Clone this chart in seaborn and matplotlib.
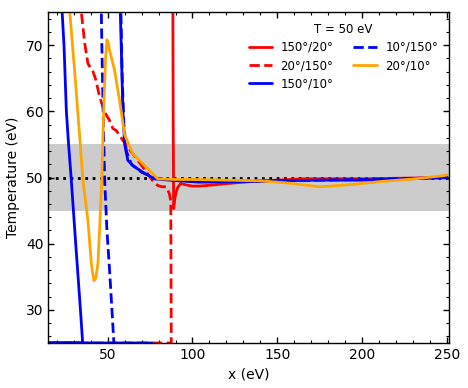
import numpy as np
import pandas as pd
import seaborn as sns
import matplotlib.pyplot as plt
from matplotlib.ticker import MultipleLocator

# reference temperature and the accepted band
t_ref = 50
band_lo, band_hi = 45, 55

# 150°/20° (red, solid)
red_solid_x = [88.4, 88.6, 88.9, 89.6, 90.4, 91.3, 93.0, 96.0, 100.0, 104.0, 113.0,
               121.0, 135.0, 150.0, 165.0, 180.0, 200.0, 225.0, 250.0]
red_solid_y = [80.0, 60.0, 45.3, 46.8, 47.8, 48.5, 49.1, 48.9, 48.7, 48.7, 48.9,
               49.1, 49.4, 49.6, 49.8, 49.8, 49.8, 49.9, 50.0]

# 20°/150° (red, dashed) - runs down, drops to the floor, back along the floor
red_dash_x = [34.2, 34.5, 36.5, 38.4, 41.4, 43.0, 45.3, 48.2, 51.2, 53.1, 55.1, 59.0,
              64.8, 70.7, 76.6, 79.5, 82.0, 84.5, 86.3, 87.2, 87.5, 15.0]
red_dash_y = [77.0, 75.0, 70.3, 67.2, 66.0, 64.8, 62.2, 59.9, 58.6, 57.4, 57.1, 55.6,
              53.6, 51.6, 49.5, 48.8, 48.6, 48.6, 47.6, 46.5, 25.0, 25.0]

# 150°/10° (blue, solid): left branch + floor, then right branch
blue_solid_x_a = [22.8, 23.2, 24.3, 25.7, 27.0, 28.5, 31.2, 34.0, 35.3, 15.0, 76.0]
blue_solid_y_a = [78.0, 75.0, 70.0, 60.0, 55.0, 50.0, 40.0, 30.0, 25.0, 25.0, 25.0]
blue_solid_x_b = [57.2, 57.5, 58.2, 59.0, 60.0, 61.9, 64.8, 70.7, 77.6, 86.4, 104.0,
                  120.0, 133.0, 150.0, 175.0, 200.0, 240.0, 250.0]
blue_solid_y_b = [78.0, 75.0, 68.0, 60.0, 55.1, 52.6, 51.8, 50.8, 49.8, 49.6, 49.3,
                  49.35, 49.4, 49.5, 49.6, 49.6, 49.9, 50.0]

# 10°/150° (blue, dashed)
blue_dash_x_a = [46.1, 46.3, 46.6, 47.2, 48.2, 49.6, 51.2, 53.7, 54.0]
blue_dash_y_a = [77.0, 75.0, 70.0, 62.0, 50.0, 42.0, 35.8, 25.0, 23.0]
blue_dash_x_b = [57.6, 58.6, 59.6, 61.0, 64.0, 70.0, 78.0, 90.0, 110.0, 150.0, 200.0, 250.0]
blue_dash_y_b = [78.0, 65.0, 58.0, 54.0, 52.0, 50.8, 49.9, 49.6, 49.4, 49.5, 49.7, 50.0]

# 20°/10° (orange, solid)
orange_x = [27.4, 27.7, 30.6, 33.6, 35.5, 38.4, 40.4, 41.9, 43.0, 44.3, 45.5, 46.6,
            47.8, 48.8, 49.6, 50.4, 51.2, 54.1, 57.0, 60.0, 64.8, 72.6, 79.5, 90.0,
            100.0, 120.0, 140.0, 155.0, 165.0, 175.0, 192.0, 211.0, 231.0, 248.6, 250.0]
orange_y = [77.0, 75.0, 66.0, 56.0, 49.5, 43.5, 37.0, 34.4, 34.8, 37.0, 43.5, 50.0,
            61.0, 68.0, 70.8, 70.3, 69.2, 66.2, 61.7, 56.5, 53.6, 51.6, 49.8, 49.7,
            49.7, 49.6, 49.5, 49.2, 48.9, 48.6, 48.9, 49.4, 49.8, 50.3, 50.4]


def frame(segments):
    rows = []
    for i, (xs, ys) in enumerate(segments):
        rows.append(pd.DataFrame({"x": xs, "y": ys, "seg": i}))
    return pd.concat(rows, ignore_index=True)


series = [
    ("150°/20°", "red", "-", frame([(red_solid_x, red_solid_y)])),
    ("20°/150°", "red", "--", frame([(red_dash_x, red_dash_y)])),
    ("150°/10°", "blue", "-", frame([(blue_solid_x_a, blue_solid_y_a),
                                     (blue_solid_x_b, blue_solid_y_b)])),
    ("10°/150°", "blue", "--", frame([(blue_dash_x_a, blue_dash_y_a),
                                      (blue_dash_x_b, blue_dash_y_b)])),
    ("20°/10°", "orange", "-", frame([(orange_x, orange_y)])),
]

sns.set_style("ticks", {"xtick.direction": "in", "ytick.direction": "in",
                        "xtick.top": True, "ytick.right": True,
                        "axes.edgecolor": "black", "xtick.color": "black",
                        "ytick.color": "black", "text.color": "black",
                        "axes.labelcolor": "black"})
plt.rcParams['font.family'] = ['DejaVu Sans']
plt.rcParams['xtick.minor.visible'] = True
plt.rcParams['ytick.minor.visible'] = True

fig = plt.figure(figsize=(4.68, 3.88), dpi=100)
ax = fig.add_axes([0.103, 0.116, 0.856, 0.853])

ax.axhspan(band_lo, band_hi, color="#cccccc", lw=0, zorder=0)
ax.axhline(t_ref, color="black", ls=":", lw=2, zorder=1)

for label, color, ls, df in series:
    sns.lineplot(data=df, x="x", y="y", units="seg", estimator=None, sort=False,
                 color=color, linestyle=ls, lw=2, label=label, ax=ax, legend=False)

ax.set_xlim(15, 251)
ax.set_ylim(25, 75)
ax.set_xlabel("x (eV)", fontsize=10)
ax.set_ylabel("Temperature (eV)", fontsize=10)

ax.xaxis.set_major_locator(MultipleLocator(50))
ax.xaxis.set_minor_locator(MultipleLocator(10))
ax.yaxis.set_major_locator(MultipleLocator(10))
ax.yaxis.set_minor_locator(MultipleLocator(2))
ax.tick_params(which="both", direction="in", bottom=True, left=True, top=True,
               right=True, labelsize=10)
ax.tick_params(which="major", length=4, width=1)
ax.tick_params(which="minor", length=2, width=0.8)
for sp in ax.spines.values():
    sp.set_visible(True)
    sp.set_color("black")
    sp.set_linewidth(1)

# one legend entry per series (segments share a label)
handles, labels = ax.get_legend_handles_labels()
seen = {}
for h, l in zip(handles, labels):
    if l not in seen:
        seen[l] = h
ax.legend(list(seen.values()), list(seen.keys()), title="T = 50 eV", ncol=2,
          frameon=False, loc="upper right", fontsize=8.5, title_fontsize=8.5,
          handlelength=2.0, handletextpad=0.7, columnspacing=1.7,
          labelspacing=0.45)

fig.savefig("out.png", dpi=100)
